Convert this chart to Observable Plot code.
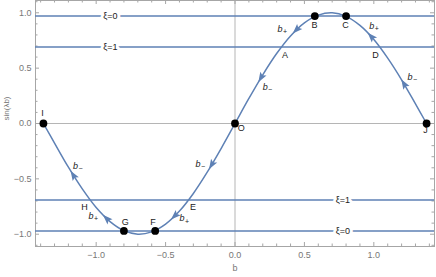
<!DOCTYPE html>
<html><head><meta charset="utf-8">
<script src="https://cdn.jsdelivr.net/npm/d3@7"></script>
<script src="https://cdn.jsdelivr.net/npm/@observablehq/plot@0.6"></script>
<style>body{margin:0;background:#fff} svg{display:block}</style>
</head><body><div id="chart"></div>
<script>
// curve sin(λb)
const curveB = [-1.38,-1.3,-1.2,-1.1,-1.0,-0.9,-0.8,-0.7,-0.6,-0.5,-0.4,-0.3,-0.2,-0.1,0,0.1,0.2,0.3,0.4,0.5,0.6,0.7,0.8,0.9,1.0,1.1,1.2,1.3,1.38];
const curveY = [0,-0.177,-0.395,-0.591,-0.759,-0.886,-0.968,-1.000,-0.979,-0.909,-0.791,-0.632,-0.440,-0.226,0,0.226,0.440,0.632,0.791,0.909,0.979,1.000,0.968,0.886,0.759,0.591,0.395,0.177,0];
// horizontal levels
const levelY = [0.97, 0.69, -0.69, -0.97];
const levelText = ["ξ=0", "ξ=1", "ξ=1", "ξ=0"];
const levelTextB = [-0.897, -0.897, 0.777, 0.777];
// marked points
const pointB = [0.575, 0.80, -0.575, -0.80, 0, -1.38, 1.38];
const pointY = [0.97, 0.97, -0.97, -0.97, 0, 0, 0];
// point labels
const labelText = ["A","B","C","D","E","F","G","H","I","J","O"];
const labelB = [0.360, 0.573, 0.796, 1.012, -0.302, -0.590, -0.790, -1.084, -1.387, 1.373, 0.045];
const labelY = [0.614, 0.892, 0.892, 0.614, -0.759, -0.893, -0.893, -0.759, 0.095, -0.058, -0.045];
// branch labels: b with subscript sign
const branchSign = ["+","−","+","−","−","+","+","−"];
const branchB = [0.325, 0.217, 0.985, 1.260, -1.148, -1.037, -0.382, -0.267];
const branchY = [0.855, 0.331, 0.879, 0.422, -0.382, -0.834, -0.856, -0.364];
// arrowheads: position and a point just ahead in the flow direction
const arrowB = [0.446, 0.19, 0.985, 1.22, -0.165, -0.43, -0.921, -1.162];
const arrowY = [0.851, 0.420, 0.781, 0.353, -0.367, -0.830, -0.863, -0.472];
const arrowToB = [0.406, 0.15, 0.945, 1.18, -0.205, -0.47, -0.961, -1.202];
const arrowToY = [0.799, 0.335, 0.835, 0.436, -0.450, -0.878, -0.814, -0.391];
// ticks
const xMajor = [-1, -0.5, 0, 0.5, 1];
const xMajorText = ["−1.0", "−0.5", "0.0", "0.5", "1.0"];
const yMajor = [-1, -0.5, 0, 0.5, 1];
const yMajorText = ["−1.0", "−0.5", "0.0", "0.5", "1.0"];
const minor = d3.range(-14, 15).map(i => i / 10);

const blue = "#5E81B5";
const frameGray = "#a6a6a6";
const textGray = "#777";
const xDom = [-1.437, 1.437], yDom = [-1.111, 1.111];

const base = {
  width: 436, height: 277,
  marginLeft: 35, marginRight: 2, marginTop: 0, marginBottom: 31,
  x: {domain: xDom, axis: null},
  y: {domain: yDom, axis: null},
  style: {fontFamily: "'Liberation Sans', Arial, sans-serif", fontSize: "9px", background: "white"}
};
const probe = Plot.plot({...base, marks: []});
const sx = probe.scale("x"), sy = probe.scale("y");
const yUp = (v, px) => sy.invert(sy.apply(v) - px);
const yDown = (v, px) => sy.invert(sy.apply(v) + px);
const xRight = (v, px) => sx.invert(sx.apply(v) + px);
const xLeft = (v, px) => sx.invert(sx.apply(v) - px);

const curve = curveB.map((b, i) => ({b, y: curveY[i]}));
const levels = levelY.map((y, i) => ({y, text: levelText[i], b: levelTextB[i]}));
const points = pointB.map((b, i) => ({b, y: pointY[i]}));
const labels = labelText.map((t, i) => ({t, b: labelB[i], y: labelY[i]}));
const branches = branchSign.map((s, i) => ({s, b: branchB[i], y: branchY[i]}));
const arrows = arrowB.map((b, i) => {
  const dx = sx.apply(arrowToB[i]) - sx.apply(b);
  const dy = sy.apply(arrowToY[i]) - sy.apply(arrowY[i]);
  return {b, y: arrowY[i], angle: Math.atan2(dx, -dy) * 180 / Math.PI};
});
const arrowSymbol = {
  draw(ctx) {
    ctx.moveTo(0, -6);
    ctx.lineTo(3.6, 4);
    ctx.lineTo(0, 2);
    ctx.lineTo(-3.6, 4);
    ctx.closePath();
  }
};
const isMajor = v => xMajor.some(m => Math.abs(m - v) < 1e-9);
const minorX = minor.filter(v => !isMajor(v));
const minorY = minor.filter(v => Math.abs(v) <= 1.1 && !isMajor(v));

const chart = Plot.plot({
  ...base,
  marks: [
    Plot.ruleX([0], {stroke: "#b5b5b5", strokeWidth: 1}),
    Plot.ruleY([0], {stroke: "#b5b5b5", strokeWidth: 1}),
    // ticks: bottom / top
    Plot.ruleX(xMajor, {x: d => d, y1: yDom[0], y2: yUp(yDom[0], 4), stroke: frameGray}),
    Plot.ruleX(minorX, {x: d => d, y1: yDom[0], y2: yUp(yDom[0], 2.5), stroke: frameGray}),
    Plot.ruleX(xMajor, {x: d => d, y1: yDom[1], y2: yDown(yDom[1], 4), stroke: frameGray}),
    Plot.ruleX(minorX, {x: d => d, y1: yDom[1], y2: yDown(yDom[1], 2.5), stroke: frameGray}),
    // ticks: left / right
    Plot.ruleY(yMajor, {y: d => d, x1: xDom[0], x2: xRight(xDom[0], 4), stroke: frameGray}),
    Plot.ruleY(minorY, {y: d => d, x1: xDom[0], x2: xRight(xDom[0], 2.5), stroke: frameGray}),
    Plot.ruleY(yMajor, {y: d => d, x1: xDom[1], x2: xLeft(xDom[1], 4), stroke: frameGray}),
    Plot.ruleY(minorY, {y: d => d, x1: xDom[1], x2: xLeft(xDom[1], 2.5), stroke: frameGray}),
    Plot.frame({stroke: frameGray}),
    // tick labels
    Plot.text(xMajor, {x: d => d, y: yDom[0], dy: 9, text: (d, i) => xMajorText[i], fill: textGray, fontSize: 9}),
    Plot.text(yMajor, {x: xDom[0], y: d => d, dx: -4, textAnchor: "end", text: (d, i) => yMajorText[i], fill: textGray, fontSize: 9}),
    Plot.text(["b"], {frameAnchor: "bottom", dy: 24, fill: textGray, fontSize: 9}),
    Plot.text(["sin(λb)"], {frameAnchor: "left", dx: -29, dy: -3, rotate: -90, fill: textGray, fontSize: 8}),
    // levels
    Plot.ruleY(levels, {y: "y", stroke: blue, strokeWidth: 1.5}),
    Plot.text(levels, {x: "b", y: "y", text: "text", fill: "#222", stroke: "white", strokeWidth: 6, fontSize: 9}),
    // curve
    Plot.line(curve, {x: "b", y: "y", curve: "catmull-rom", stroke: blue, strokeWidth: 1.5}),
    Plot.dot(arrows, {x: "b", y: "y", rotate: "angle", symbol: arrowSymbol, fill: blue, stroke: "none", r: 4}),
    Plot.dot(points, {x: "b", y: "y", r: 3.9, fill: "black"}),
    Plot.text(labels, {x: "b", y: "y", text: "t", fill: "#222", fontSize: 9}),
    Plot.text(branches, {x: "b", y: "y", text: () => "b", fill: "#222", fontSize: 9, fontStyle: "italic"}),
    Plot.text(branches, {x: "b", y: "y", text: "s", dx: 5, dy: 3, fill: "#222", fontSize: 7})
  ]
});
document.getElementById("chart").appendChild(chart);
</script>
</body></html>
